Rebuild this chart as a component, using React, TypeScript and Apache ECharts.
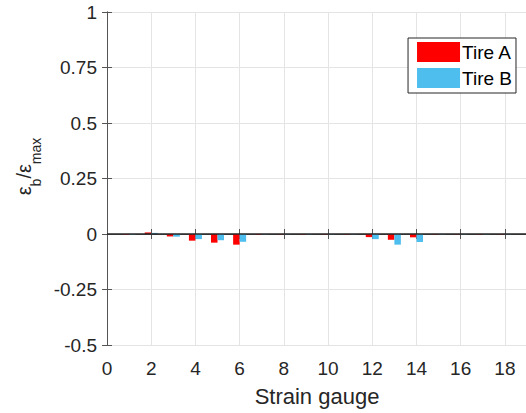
import React, { useEffect, useRef } from "react";
import * as echarts from "echarts";

const gauges = [1, 2, 3, 4, 5, 6, 7, 8, 9, 10, 11, 12, 13, 14, 15, 16, 17, 18];
const tireA = [-0.003, 0.007, -0.011, -0.03, -0.039, -0.048, -0.003, -0.002, -0.002, -0.002, -0.002, -0.014, -0.026, -0.015, -0.002, -0.002, -0.002, -0.002];
const tireB = [-0.003, 0.005, -0.012, -0.023, -0.028, -0.035, -0.002, -0.002, -0.002, -0.002, -0.002, -0.023, -0.048, -0.036, -0.002, -0.002, -0.002, -0.002];
const seriesNames = ["Tire A", "Tire B"];
const colors = ["#ff0000", "#4dbeee"];

const FONT = "Liberation Sans, Arial, sans-serif";
const TXT = "#262626";
const AXIS = "#555555";
const GRID = "#e4e4e4";

export default function App() {
  const ref = useRef<HTMLDivElement>(null);
  useEffect(() => {
    if (!ref.current) return;
    const chart = echarts.init(ref.current, undefined, { renderer: "svg" });
    const axisCommon = {
      axisLine: { show: true, lineStyle: { color: AXIS, width: 1 } },
      axisTick: { show: true, inside: true, length: 5, lineStyle: { color: AXIS } },
    };
    chart.setOption({
      animation: false,
      backgroundColor: "#ffffff",
      textStyle: { fontFamily: FONT, color: TXT },
      grid: { left: 107, right: 1, top: 12, bottom: 68, containLabel: false },
      legend: {
        data: seriesNames,
        orient: "vertical",
        right: 14,
        top: 38,
        itemWidth: 43,
        itemHeight: 20,
        itemGap: 6,
        icon: "rect",
        padding: [4, 4, 5, 9],
        borderColor: "#262626",
        borderWidth: 1,
        backgroundColor: "#ffffff",
        textStyle: { fontFamily: FONT, fontSize: 19, color: "#000000", padding: [0, 0, 0, -3] },
      },
      xAxis: [
        {
          type: "value",
          min: 0,
          max: 19,
          interval: 2,
          name: "Strain gauge",
          nameLocation: "middle",
          nameGap: 40,
          nameTextStyle: { fontFamily: FONT, fontSize: 22, color: TXT },
          ...axisCommon,
          axisLabel: {
            fontFamily: FONT,
            fontSize: 19,
            color: TXT,
            margin: 14,
            formatter: (v: number) => (v === 19 ? "" : String(v)),
          },
          splitLine: { show: true, lineStyle: { color: GRID, width: 1 } },
        },
        {
          type: "value",
          position: "top",
          min: 0,
          max: 19,
          interval: 2,
          ...axisCommon,
          axisLabel: { show: false },
          splitLine: { show: false },
        },
      ],
      yAxis: [
        {
          type: "value",
          min: -0.5,
          max: 1,
          interval: 0.25,
          name: "{e|ε}{s|b}{e|/ε}{s|max}",
          nameLocation: "middle",
          nameRotate: 90,
          nameGap: 64,
          nameTextStyle: {
            fontFamily: FONT,
            color: TXT,
            padding: [0, 0, 0, 24],
            rich: {
              e: { fontFamily: FONT, fontSize: 20, color: TXT, verticalAlign: "top", lineHeight: 29 },
              s: { fontFamily: FONT, fontSize: 14, color: TXT, verticalAlign: "bottom", lineHeight: 29 },
            },
          },
          ...axisCommon,
          axisLabel: { fontFamily: FONT, fontSize: 19, color: TXT, margin: 10 },
          splitLine: { show: true, lineStyle: { color: GRID, width: 1 } },
        },
        {
          type: "value",
          position: "right",
          min: -0.5,
          max: 1,
          interval: 0.25,
          ...axisCommon,
          axisLabel: { show: false },
          splitLine: { show: false },
        },
      ],
      series: [
        {
          name: seriesNames[0],
          type: "bar",
          xAxisIndex: 0,
          yAxisIndex: 0,
          data: gauges.map((g, i) => [g, tireA[i]]),
          barWidth: 6.5,
          barGap: "0%",
          itemStyle: { color: colors[0] },
          markLine: {
            silent: true,
            symbol: "none",
            label: { show: false },
            lineStyle: { color: "#262626", width: 1.5, type: "solid" },
            data: [{ yAxis: 0 }],
          },
        },
        {
          name: seriesNames[1],
          type: "bar",
          xAxisIndex: 0,
          yAxisIndex: 0,
          data: gauges.map((g, i) => [g, tireB[i]]),
          barWidth: 6.5,
          barGap: "0%",
          itemStyle: { color: colors[1] },
        },
      ],
    });
    return () => chart.dispose();
  }, []);
  return (
    <div
      ref={ref}
      style={{ position: "fixed", left: 0, top: 0, width: 530, height: 413, background: "#fff" }}
    />
  );
}
